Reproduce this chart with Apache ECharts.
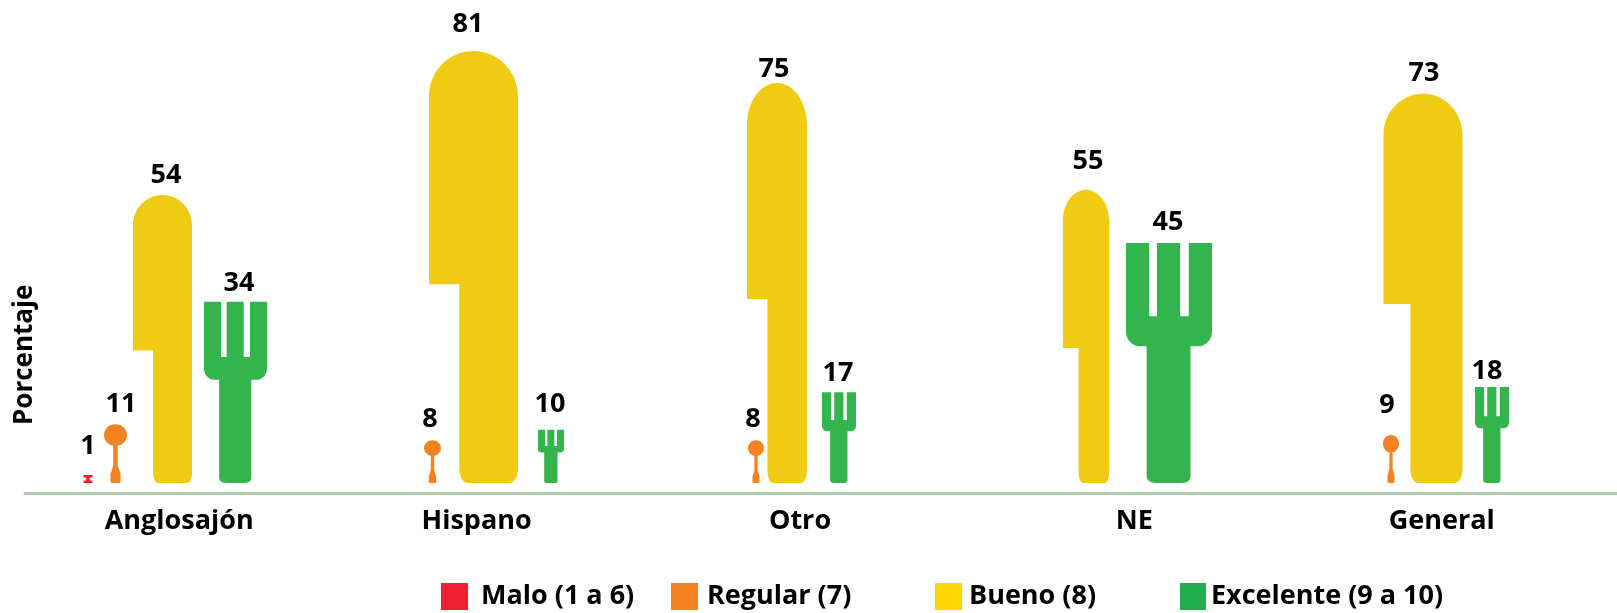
<!DOCTYPE html>
<html>
<head>
<meta charset="utf-8">
<style>html,body{margin:0;padding:0;background:#fff}#c{width:1617px;height:613px}</style>
<script src="https://cdn.jsdelivr.net/npm/echarts@6/dist/echarts.min.js"></script>
</head>
<body>
<div id="c"></div>
<script>
const categories = ['Anglosajón', 'Hispano', 'Otro', 'NE', 'General'];
const malo = [1, null, null, null, null];
const regular = [11, 8, 8, null, 9];
const bueno = [54, 81, 75, 55, 73];
const excelente = [34, 10, 17, 45, 18];

// Icon shapes
const blockPath = 'path://M0,0 L100,0 L100,30 L70,30 L70,70 L100,70 L100,100 L0,100 L0,70 L30,70 L30,30 L0,30 Z';
const spoonPath = 'path://M50,0 C77.6,0 100,8 100,18 C100,28 77.6,36 60,36 L60,70 L72,85 L72,97 C72,99 68,100 62,100 L38,100 C32,100 28,99 28,97 L28,85 L40,70 L40,36 C22.4,36 0,28 0,18 C0,8 22.4,0 50,0 Z';
const knifePath = 'path://M0,54 L0,10.5 C0,4.7 22.4,0 50,0 C77.6,0 100,4.7 100,10.5 L100,96.5 C100,98.5 96,100 90,100 L44,100 C38,100 34,98.5 34,96.5 L34,54 Z';
const forkPath = 'path://M0,0 L27,0 L27,30.5 L36,30.5 L36,0 L63,0 L63,30.5 L73,30.5 L73,0 L100,0 L100,37 C100,40.5 92,43 85,43 L75,43 L75,97 C75,99 71,100 65,100 L35,100 C29,100 24,99 24,97 L24,43 L15,43 C8,43 0,40.5 0,37 Z';

const FONT = 'Open Sans', FS = 27;

// Layout (pixels): icon centre, icon width, label centre, label gap above icon
const gridLeft = 25, gridWidth = 1592;
const band = i => gridLeft + gridWidth / categories.length * (i + 0.5);
const layouts = {
  malo:      { cx: [88, 0, 0, 0, 0],                w: [9, 0, 0, 0, 0],          h: 8, lx: [88, 0, 0, 0, 0],              gap: [30, 0, 0, 0, 0] },
  regular:   { cx: [115.5, 432.5, 756, 0, 1391],    w: [23, 17, 16, 0, 16],      lx: [121, 430, 753, 0, 1387],      gap: [22, 23, 23, 0, 31] },
  bueno:     { cx: [162.5, 473.5, 777, 1086, 1423], w: [59, 89, 60, 46, 79],     lx: [166, 468, 774, 1088, 1424],   gap: [21, 28, 15, 30, 22] },
  excelente: { cx: [235.5, 551, 839, 1169, 1492],   w: [63, 26, 34, 86, 34],     lx: [239, 550, 838, 1168, 1487],   gap: [20, 27, 21, 22, 17] }
};
const labelShift = [-5, -26, -21, -5, -16];

function makeSeries(name, values, path, color, lay) {
  return {
    name, type: 'pictorialBar', symbol: path, symbolPosition: 'start', barWidth: 60, barGap: '-100%',
    itemStyle: { color },
    label: { show: true, position: 'top', fontFamily: FONT, fontWeight: 'bold', fontSize: FS, color: '#000' },
    data: values.map((v, i) => ({
      value: v,
      symbolSize: [lay.w[i] || 1, lay.h || '100%'],
      symbolOffset: [lay.cx[i] - band(i), 0],
      label: { offset: [lay.lx[i] - band(i), -(lay.gap[i] - 20)] }
    }))
  };
}

const legendNames = ['Malo (1 a 6)', 'Regular (7)', 'Bueno (8)', 'Excelente (9 a 10)'];
const legendColors = ['#EE2030', '#F58220', '#FFD400', '#22AE4E'];
const legendLefts = [441, 671, 935, 1180];
const legendSwatch = [27, 27, 27, 26];
const legendTextGaps = [8, 4, 2, 0];

const chart = echarts.init(document.getElementById('c'), null, { renderer: 'canvas' });
chart.setOption({
  animation: false,
  backgroundColor: '#fff',
  grid: { left: gridLeft, width: gridWidth, top: 3, bottom: 120, containLabel: false },
  legend: legendNames.map((n, i) => ({
    left: legendLefts[i], top: 583, padding: 0, itemWidth: legendSwatch[i], itemHeight: 27, selectedMode: false, icon: 'rect',
    data: [{ name: n, itemStyle: { color: legendColors[i] } }],
    textStyle: { fontFamily: FONT, fontWeight: 'bold', fontSize: FS, color: '#000', padding: [0, 0, 0, legendTextGaps[i]] }
  })),
  xAxis: {
    type: 'category', data: categories, position: 'bottom',
    axisLine: { show: true, onZero: false, lineStyle: { color: '#AECBB0', width: 3 } },
    axisTick: { show: false },
    axisLabel: {
      margin: 15, interval: 0,
      fontFamily: FONT, fontWeight: 'bold', fontSize: FS, color: '#000',
      formatter: (v, i) => `{c${i}|${v}}`,
      rich: Object.fromEntries(labelShift.map((s, i) => [`c${i}`, {
        fontFamily: FONT, fontWeight: 'bold', fontSize: FS, color: '#000', padding: [0, -2 * s, 0, 0]
      }]))
    }
  },
  yAxis: {
    type: 'value', min: -1.875, max: 90,
    name: 'Porcentaje', nameLocation: 'start', nameGap: -68, nameRotate: 90,
    nameTextStyle: { fontFamily: FONT, fontWeight: 'bold', fontSize: 26, color: '#000', align: 'left', verticalAlign: 'middle' },
    axisLine: { show: false }, axisTick: { show: false }, axisLabel: { show: false }, splitLine: { show: false }
  },
  series: [
    makeSeries(legendNames[0], malo, blockPath, '#EE2030', layouts.malo),
    makeSeries(legendNames[1], regular, spoonPath, '#F58220', layouts.regular),
    makeSeries(legendNames[2], bueno, knifePath, '#EFCC13', layouts.bueno),
    makeSeries(legendNames[3], excelente, forkPath, '#33B44D', layouts.excelente)
  ]
});
</script>
</body>
</html>
